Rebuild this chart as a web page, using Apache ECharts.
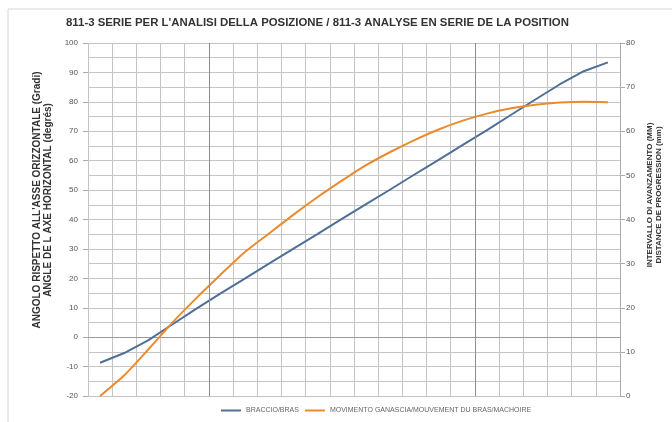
<!DOCTYPE html>
<html>
<head>
<meta charset="utf-8">
<script src="https://cdn.jsdelivr.net/npm/echarts@6/dist/echarts.min.js"></script>
<style>
  html, body { margin: 0; padding: 0; background: #fff; }
  #chart { width: 672px; height: 422px; }
</style>
</head>
<body>
<div id="chart"></div>
<script>
// punti di misura (22 posizioni)
const steps = ['1', '2', '3', '4', '5', '6', '7', '8', '9', '10', '11',
  '12', '13', '14', '15', '16', '17', '18', '19', '20', '21', '22'];
// braccio / bras -> asse sinistro (gradi)
const braccio = [-8.7, -5.4, -1.0, 4.4, 9.8, 15.0, 20.0, 25.1, 30.1, 35.1, 40.2,
  45.2, 50.2, 55.3, 60.3, 65.4, 70.4, 75.6, 80.8, 85.9, 90.4, 93.4];
// movimento ganascia -> asse destro (mm)
const ganascia = [0, 4.7, 10.6, 16.7, 22.3, 27.6, 32.7, 36.9, 41.1, 45.1, 48.8,
  52.3, 55.3, 58.0, 60.4, 62.4, 64.0, 65.2, 66.0, 66.5, 66.7, 66.6];
// linee verticali più scure
const darkLines = [5, 16];

const chart = echarts.init(document.getElementById('chart'));
const grey = '#555';

const option = {
  animation: false,
  backgroundColor: '#fff',
  color: ['#4f6f98', '#ec8a2c'],
  title: {
    text: "811-3 SERIE PER L'ANALISI DELLA POSIZIONE / 811-3 ANALYSE EN SERIE DE LA POSITION",
    left: 61,
    top: 12,
    textStyle: { fontFamily: 'Liberation Sans', fontSize: 11.4, fontWeight: 'bold', color: '#333' }
  },
  legend: {
    bottom: 3,
    left: 216,
    icon: 'rect',
    itemWidth: 20,
    itemHeight: 2,
    itemGap: 6,
    textStyle: { fontFamily: 'Liberation Sans', fontSize: 7, color: '#666' },
    data: ['BRACCIO/BRAS', 'MOVIMENTO GANASCIA/MOUVEMENT DU BRAS/MACHOIRE']
  },
  grid: { left: 88, right: 52, top: 43, bottom: 26 },
  xAxis: [
    {
      type: 'category',
      data: steps,
      boundaryGap: true,
      axisLine: { lineStyle: { color: '#999' } },
      axisTick: { show: false },
      axisLabel: { show: false },
      splitLine: { show: true, interval: 0, lineStyle: { color: '#c4c4c4' } }
    },
    {
      type: 'value',
      min: 0,
      max: 22,
      show: false
    }
  ],
  yAxis: [
    {
      type: 'value',
      min: -20,
      max: 100,
      interval: 10,
      axisLine: { show: false },
      axisTick: { show: true, length: 5, lineStyle: { color: '#aaa' } },
      axisLabel: { fontFamily: 'Liberation Sans', fontSize: 8, color: grey, margin: 10 },
      splitLine: { lineStyle: { color: '#c4c4c4' } },
      minorTick: { show: false, splitNumber: 2 },
      minorSplitLine: { show: true, lineStyle: { color: '#c4c4c4' } }
    },
    {
      type: 'value',
      min: 0,
      max: 80,
      interval: 10,
      position: 'right',
      axisLine: { show: true, lineStyle: { color: '#aaa' } },
      axisTick: { show: true, length: 5, lineStyle: { color: '#aaa' } },
      axisLabel: { fontFamily: 'Liberation Sans', fontSize: 8, color: grey, margin: 6 },
      splitLine: { show: false }
    }
  ],
  graphic: [
    {
      type: 'rect',
      shape: { x: 8, y: 9, width: 680, height: 430 },
      style: { fill: 'none', stroke: '#d6d6d6', lineWidth: 1 },
      silent: true
    },
    {
      type: 'text',
      x: 32,
      y: 200,
      rotation: Math.PI / 2,
      style: {
        text: "ANGOLO RISPETTO ALL'ASSE ORIZZONTALE (Gradi)\nANGLE DE L AXE HORIZONTAL (degrés)",
        font: 'bold 10px "Liberation Sans"',
        lineHeight: 11,
        fill: '#333',
        align: 'center',
        verticalAlign: 'top'
      }
    },
    {
      type: 'text',
      x: 645,
      y: 195,
      rotation: Math.PI / 2,
      style: {
        text: 'INTERVALLO DI AVANZAMENTO (MM)\nDISTANCE DE PROGRESSION (mm)',
        font: 'bold 8px "Liberation Sans"',
        lineHeight: 9,
        fill: '#333',
        align: 'center',
        verticalAlign: 'top'
      }
    }
  ],
  series: [
    {
      name: 'BRACCIO/BRAS',
      type: 'line',
      yAxisIndex: 0,
      data: braccio,
      showSymbol: false,
      lineStyle: { width: 2 },
      z: 3
    },
    {
      name: 'MOVIMENTO GANASCIA/MOUVEMENT DU BRAS/MACHOIRE',
      type: 'line',
      yAxisIndex: 1,
      data: ganascia,
      showSymbol: false,
      smooth: 0.2,
      lineStyle: { width: 2 },
      z: 3
    },
    {
      type: 'line',
      xAxisIndex: 1,
      yAxisIndex: 0,
      data: [],
      markLine: {
        silent: true,
        symbol: 'none',
        label: { show: false },
        lineStyle: { color: '#8c8c8c', type: 'solid', width: 1 },
        data: darkLines.map(v => ({ xAxis: v }))
      },
      z: 1
    }
  ]
};

chart.setOption(option);
</script>
</body>
</html>
